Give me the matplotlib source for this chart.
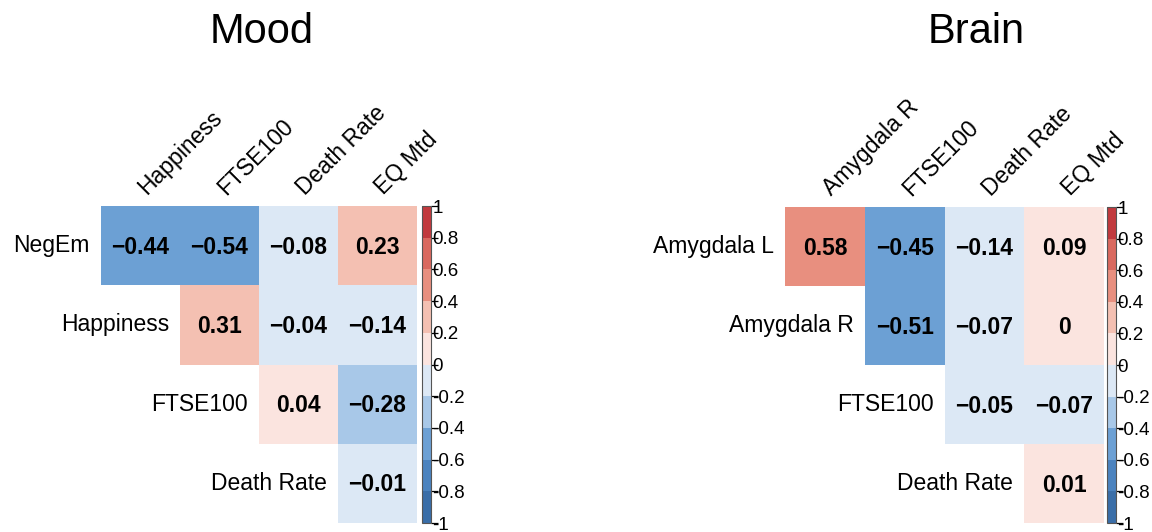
import numpy as np
import matplotlib
matplotlib.use('Agg')
import matplotlib.pyplot as plt
import matplotlib.colors as mcolors

plt.rcParams['font.family'] = ['Liberation Sans', 'DejaVu Sans']

# Data (upper triangle of correlation matrices)
nan = np.nan

mood_rows = ['NegEm', 'Happiness', 'FTSE100', 'Death Rate']
mood_cols = ['Happiness', 'FTSE100', 'Death Rate', 'EQ Mtd']
mood_r = [[-0.44, -0.54, -0.08, 0.23],
          [nan, 0.31, -0.04, -0.14],
          [nan, nan, 0.04, -0.28],
          [nan, nan, nan, -0.01]]

brain_rows = ['Amygdala L', 'Amygdala R', 'FTSE100', 'Death Rate']
brain_cols = ['Amygdala R', 'FTSE100', 'Death Rate', 'EQ Mtd']
brain_r = [[0.58, -0.45, -0.14, 0.09],
           [nan, -0.51, -0.07, 0.00],
           [nan, nan, -0.05, -0.07],
           [nan, nan, nan, 0.01]]

cbar_ticks = [-1, -0.8, -0.6, -0.4, -0.2, 0, 0.2, 0.4, 0.6, 0.8, 1]
cbar_labels = ['-1', '-0.8', '-0.6', '-0.4', '-0.2', '0', '0.2', '0.4', '0.6', '0.8', '1']

# Binned red-blue colours, -1 .. 1 in steps of 0.2
bin_colors = ['#3a6ea8', '#4b83bf', '#6ca0d4', '#a8c8e8', '#dce8f5',
              '#fbe4df', '#f4c0b2', '#e88f7f', '#d9695f', '#c13a3e']
cmap = mcolors.ListedColormap(bin_colors)
norm = mcolors.BoundaryNorm(cbar_ticks, cmap.N)


def fmt(v):
    if v == 0:
        return '0'
    return f'{v:.2f}'.replace('-', '\u2212')


def draw_panel(ax, cax, data, rows, cols, title, title_x):
    data = np.array(data, dtype=float)
    masked = np.ma.masked_invalid(data)
    n = data.shape[0]
    ax.pcolormesh(np.arange(n + 1), np.arange(n + 1), masked, cmap=cmap, norm=norm,
                  edgecolors='none', linewidth=0, antialiased=False)
    ax.set_xlim(0, n)
    ax.set_ylim(n, 0)
    ax.axis('off')

    for i in range(n):
        for j in range(n):
            if not np.isnan(data[i, j]):
                ax.text(j + 0.5, i + 0.52, fmt(data[i, j]), ha='center', va='center',
                        fontsize=16.5, fontweight='bold', color='black')
        # row label left of the diagonal cell
        ax.text(i - 0.14, i + 0.5, rows[i], ha='right', va='center', fontsize=16.5)
        # column label, rotated
        ax.text(i + 0.58, -0.13, cols[i], ha='left', va='baseline', rotation=45,
                rotation_mode='anchor', fontsize=16.5, clip_on=False)

    sm = plt.cm.ScalarMappable(cmap=cmap, norm=norm)
    cb = fig.colorbar(sm, cax=cax, ticks=cbar_ticks)
    cb.outline.set_edgecolor('#555555')
    cb.outline.set_linewidth(0.8)
    cb.ax.set_yticklabels(cbar_labels)
    cb.ax.tick_params(length=5, width=0.9, pad=-4, labelsize=13.5, direction='out')

    fig.text(title_x, 1 - 32 / 532, title, ha='center', va='center', fontsize=30)


fig = plt.figure(figsize=(11.52, 5.32), dpi=100)
W, H = 1152, 532

ax1 = fig.add_axes([101 / W, 1 - 523 / H, 316 / W, 317 / H])
cax1 = fig.add_axes([422 / W, 1 - 523 / H, 9 / W, 317 / H])
ax2 = fig.add_axes([785 / W, 1 - 523 / H, 319 / W, 316 / H])
cax2 = fig.add_axes([1107 / W, 1 - 523 / H, 9 / W, 316 / H])

draw_panel(ax1, cax1, mood_r, mood_rows, mood_cols, 'Mood', 262 / W)
draw_panel(ax2, cax2, brain_r, brain_rows, brain_cols, 'Brain', 976 / W)

fig.savefig('out.png', dpi=100, facecolor='white')
